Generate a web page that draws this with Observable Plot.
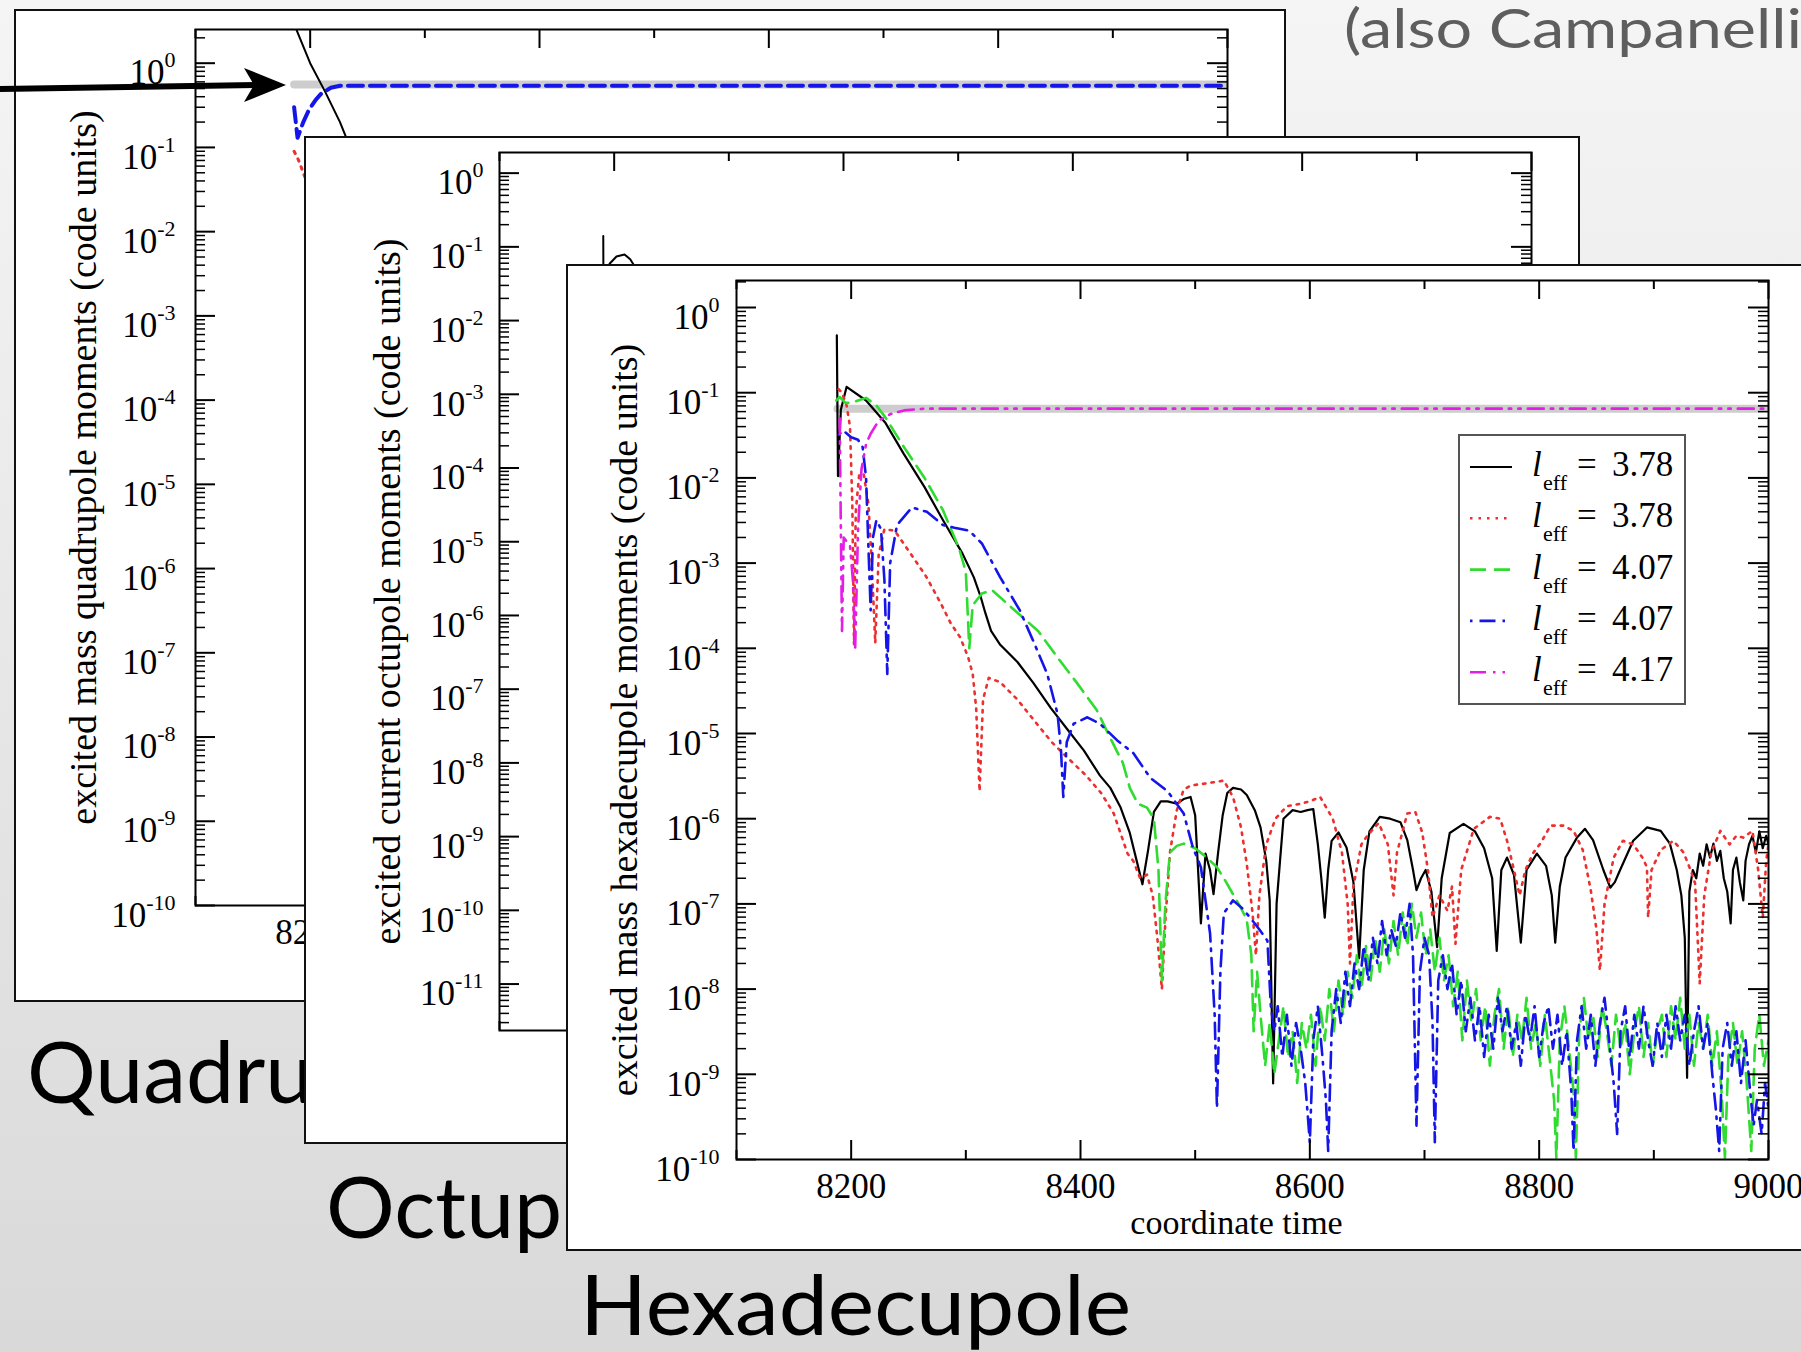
<!DOCTYPE html>
<html><head><meta charset="utf-8">
<script src="https://cdn.jsdelivr.net/npm/d3@7"></script>
<script src="https://cdn.jsdelivr.net/npm/@observablehq/plot@0.6"></script>
<style>
html,body{margin:0;padding:0;}
body{width:1801px;height:1352px;overflow:hidden;position:relative;background:linear-gradient(#f5f5f5,#d9d9d9);}
.box{position:absolute;background:#fff;border:2px solid #111;box-sizing:border-box;overflow:hidden;}
.box svg{position:absolute;left:-2px;top:-2px;}
.layer{position:absolute;left:0;top:0;}
</style></head><body>
<div id="quad" class="box" style="left:14px;top:9px;width:1272px;height:993px"></div>
<svg class="layer" id="layer1" width="1801" height="1352"></svg>
<div id="oct" class="box" style="left:304px;top:136px;width:1276px;height:1008px"></div>
<svg class="layer" id="layer2" width="1801" height="1352"></svg>
<div id="hex" class="box" style="left:566px;top:264px;width:1250px;height:987px"></div>
<svg class="layer" id="layer3" width="1801" height="1352"></svg>
<script>
// ---------- axes / categories ----------
const timeTicks = [8100, 8200, 8300, 8400, 8500, 8600, 8700, 8800, 8900, 9000];
const timeLabels = [8200, 8400, 8600, 8800, 9000];
const quadVisibleLabels = [8200];          // the rest of the quadrupole x labels sit under the other panels
const quadDecades = [0, -1, -2, -3, -4, -5, -6, -7, -8, -9, -10];
const octDecades = [0, -1, -2, -3, -4, -5, -6, -7, -8, -9, -10, -11];
const hexDecades = [0, -1, -2, -3, -4, -5, -6, -7, -8, -9, -10];
const xLabel = "coordinate time";
const quadYLabel = "excited mass quadrupole moments (code units)";
const octYLabel = "excited current octupole moments (code units)";
const hexYLabel = "excited mass hexadecupole moments (code units)";
const legendValues = ["3.78", "3.78", "4.07", "4.07", "4.17"];
const seriesColors = ["#000000", "#ec2f2f", "#2fdc2f", "#1515e8", "#e41ee4"];
const seriesDashes = ["", "2.5 6", "16 8", "2.5 7 16 7", "16 7 2.5 7 2.5 7"];
// visible parts of the slide captions (the rest is covered by the next panel)
const slideTitles = ["Quadru", "Octup", "Hexadecupole"];
const slideNote = "(also Campanelli";

// ---------- quadrupole panel (mostly hidden) ----------
const quadGrey = [[8186, 0.56], [9000, 0.56]];
const quadBlack = [[8186, 3.0], [8188, 2.5], [8200, 1.0], [8213, 0.46], [8226, 0.20], [8231, 0.135], [8245, 0.05], [8270, 0.01], [8300, 0.002], [8350, 1e-4], [8400, 5e-6]];
const quadRed = [[8186, 0.09], [8190, 0.07], [8194, 0.05], [8200, 0.03], [8210, 0.012], [8230, 0.003]];
const quadBlue = [[8186, 0.30], [8189, 0.13], [8194, 0.2], [8199, 0.28], [8205, 0.37], [8210, 0.44], [8218, 0.51], [8226, 0.54], [9000, 0.54]];

// ---------- octupole panel (mostly hidden) ----------
const octBlack = [[8190.5, 0.14], [8190.8, 0.004], [8193, 0.03], [8196, 0.059], [8202, 0.074], [8209, 0.079], [8214, 0.068], [8219, 0.051], [8230, 0.025], [8250, 0.006], [8280, 8e-4]];

// ---------- hexadecupole panel ----------
const hexGrey = [[8188, 6.5e-2], [9000, 6.5e-2]];
const hexBlack = [[8187.5,4.7e-1],[8188.5,1.05e-2],[8191,6.3e-2],[8196,1.17e-1],[8213,8.1e-2],[8230,4.4e-2],[8246,1.9e-2],[8264,7.8e-3],[8280,3.2e-3],[8297,1.3e-3],[8307,6.8e-4],[8313,4.0e-4],[8317,2.6e-4],[8322,1.6e-4],[8330,1.1e-4],[8345,6.9e-5],[8359,3.9e-5],[8374,2.0e-5],[8389,1.1e-5],[8403,6.3e-6],[8417,3.2e-6],[8426,2.3e-6],[8435,1.35e-6],[8443,6.8e-7],[8449,3.2e-7],[8454,1.7e-7],[8459,4.3e-7],[8464,1.2e-6],[8470,1.6e-6],[8476,1.6e-6],[8484,1.5e-6],[8490,1.7e-6],[8496,1.8e-6],[8500,1.1e-6],[8505,5.9e-8],[8509,3.9e-7],[8513,2.5e-7],[8516,1.3e-7],[8520,4.0e-7],[8524,1.1e-6],[8528,2.0e-6],[8533,2.3e-6],[8540,2.2e-6],[8545,1.9e-6],[8552,1.26e-6],[8557,7.9e-7],[8562,3.2e-7],[8565,1.1e-7],[8568,7.8e-10],[8571,1.0e-7],[8574,3.2e-7],[8577,1.0e-6],[8585,1.26e-6],[8592,1.2e-6],[8598,1.26e-6],[8603,1.3e-6],[8607,5.0e-7],[8610,2.0e-7],[8613,6.9e-8],[8616,2.5e-7],[8619,5.5e-7],[8625,6.9e-7],[8632,4.6e-7],[8638,1.8e-7],[8643,2.3e-8],[8647,2.5e-7],[8652,7.1e-7],[8661,1.05e-6],[8670,1.0e-6],[8679,9.1e-7],[8685,5.6e-7],[8690,2.5e-7],[8693,1.45e-7],[8697,2.0e-7],[8701,2.5e-7],[8706,1.4e-7],[8711,3.1e-8],[8715,2.0e-7],[8722,6.8e-7],[8734,8.7e-7],[8744,7.1e-7],[8752,4.5e-7],[8759,2.0e-7],[8763,2.8e-8],[8767,2.5e-7],[8772,3.5e-7],[8778,2.2e-7],[8784,3.5e-8],[8789,2.5e-7],[8798,3.9e-7],[8806,2.8e-7],[8811,1.26e-7],[8814,3.5e-8],[8818,1.6e-7],[8823,3.5e-7],[8833,6.0e-7],[8840,7.6e-7],[8847,5.6e-7],[8856,2.5e-7],[8862,1.55e-7],[8866,1.8e-7],[8870,2.4e-7],[8882,5.5e-7],[8894,7.9e-7],[8906,7.2e-7],[8914,5.1e-7],[8920,2.5e-7],[8924,1.26e-7],[8927,4.0e-8],[8929,9.1e-10],[8931,1.4e-7],[8934,2.5e-7],[8937,2.0e-7],[8940,3.9e-7],[8943,2.8e-7],[8946,5.0e-7],[8949,3.5e-7],[8952,5.1e-7],[8955,3.2e-7],[8958,4.2e-7],[8961,2.0e-7],[8964,1.4e-7],[8967,5.9e-8],[8969,2.5e-7],[8972,3.5e-7],[8975,1.8e-7],[8978,1.1e-7],[8980,3.2e-7],[8983,5.0e-7],[8986,6.3e-7],[8989,4.0e-7],[8992,7.1e-7],[8995,4.5e-7],[8998,6.3e-7],[9000,5.0e-7]];
const hexRed = [[8189,1.1e-1],[8192,1.0e-1],[8196,7.1e-2],[8199,4.0e-2],[8201,5.0e-3],[8202.5,1.1e-4],[8204,4.0e-3],[8207,1.1e-2],[8211,1.1e-2],[8215,5.0e-3],[8218,1.0e-3],[8221,1.15e-4],[8224,1.26e-3],[8229,2.5e-3],[8238,2.4e-3],[8250,1.4e-3],[8265,7.1e-4],[8278,3.4e-4],[8287,1.95e-4],[8295,1.35e-4],[8302,7.9e-5],[8306,5.0e-5],[8309,2.0e-5],[8312,2.1e-6],[8315,2.5e-5],[8320,4.5e-5],[8330,4.0e-5],[8345,2.5e-5],[8360,1.4e-5],[8375,7.9e-6],[8390,5.0e-6],[8405,3.2e-6],[8418,2.0e-6],[8429,1.15e-6],[8441,3.9e-7],[8446,3.2e-7],[8452,2.0e-7],[8458,2.2e-7],[8463,1.26e-7],[8467,4.0e-8],[8471,1.0e-8],[8474,6.3e-8],[8478,4.0e-7],[8484,1.26e-6],[8490,2.2e-6],[8496,2.45e-6],[8510,2.6e-6],[8525,2.8e-6],[8533,1.8e-6],[8540,7.9e-7],[8545,2.95e-7],[8550,7.9e-8],[8553,2.5e-8],[8556,1.26e-7],[8562,5.0e-7],[8570,1.0e-6],[8580,1.4e-6],[8592,1.5e-6],[8600,1.6e-6],[8609,1.8e-6],[8620,1.0e-6],[8628,4.0e-7],[8633,1.0e-7],[8635,2.0e-8],[8638,1.6e-7],[8645,5.0e-7],[8650,6.3e-7],[8660,8.9e-7],[8668,5.0e-7],[8673,1.26e-7],[8676,4.0e-7],[8685,1.15e-6],[8692,1.2e-6],[8698,6.9e-7],[8703,2.5e-7],[8707,6.9e-8],[8713,1.26e-7],[8720,8.3e-8],[8724,1.6e-7],[8727,3.4e-8],[8732,2.5e-7],[8743,7.6e-7],[8757,1.05e-6],[8766,1.0e-6],[8772,5.5e-7],[8778,2.5e-7],[8783,1.26e-7],[8788,2.5e-7],[8795,4.0e-7],[8801,5.1e-7],[8810,8.3e-7],[8821,8.3e-7],[8830,7.2e-7],[8838,4.3e-7],[8845,1.45e-7],[8850,5.0e-8],[8853,1.66e-8],[8857,1.0e-7],[8865,3.5e-7],[8873,5.5e-7],[8882,5.0e-7],[8890,3.5e-7],[8894,2.7e-7],[8895,6.9e-8],[8898,2.5e-7],[8906,4.3e-7],[8917,5.5e-7],[8926,4.0e-7],[8932,2.5e-7],[8936,1.74e-7],[8940,1.17e-8],[8944,1.26e-7],[8950,4.0e-7],[8958,7.2e-7],[8966,5.0e-7],[8972,6.3e-7],[8978,6.0e-7],[8986,7.2e-7],[8991,2.5e-7],[8995,6.9e-8],[8998,3.2e-7],[9000,5.0e-7]];
const hexGreen = [[8187,8.1e-2],[8190,8.9e-2],[8195,7.6e-2],[8200,7.6e-2],[8206,8.1e-2],[8213,8.7e-2],[8222,7.1e-2],[8230,5.1e-2],[8246,2.3e-2],[8264,1.0e-2],[8280,4.2e-3],[8294,1.5e-3],[8300,7.9e-4],[8303,1.0e-4],[8306,3.2e-4],[8314,4.4e-4],[8323,4.8e-4],[8340,3.0e-4],[8363,1.6e-4],[8380,7.8e-5],[8397,3.9e-5],[8414,1.9e-5],[8427,8.3e-6],[8437,4.5e-6],[8443,2.3e-6],[8450,1.5e-6],[8458,1.35e-6],[8464,1.0e-6],[8468,2.5e-7],[8471,1.26e-8],[8474,1.0e-7],[8478,4.0e-7],[8484,4.8e-7],[8490,5.1e-7],[8500,4.5e-7],[8510,3.5e-7],[8519,2.7e-7],[8527,1.8e-7],[8533,1.3e-7],[8540,8.9e-8],[8545,6.5e-8],[8549,2.5e-8],[8551,3.2e-9],[8554,1.6e-8],[8557,5.0e-9],[8561,1.26e-9],[8565,4.0e-9],[8569,1.0e-9],[8573,2.5e-9],[8577,6.3e-9],[8581,1.6e-9],[8585,3.2e-9],[8589,7.9e-10],[8593,4.0e-9],[8597,2.0e-9],[8601,5.0e-9],[8605,1.26e-9],[8609,6.3e-9],[8613,2.5e-9],[8617,1.0e-8],[8621,3.2e-9],[8625,1.26e-8],[8629,5.0e-9],[8633,1.6e-8],[8637,7.9e-9],[8641,2.5e-8],[8645,1.0e-8],[8649,3.2e-8],[8653,1.26e-8],[8657,4.0e-8],[8661,1.6e-8],[8665,5.0e-8],[8669,2.0e-8],[8673,6.3e-8],[8677,2.5e-8],[8681,7.9e-8],[8685,3.2e-8],[8689,1.0e-7],[8693,4.0e-8],[8697,7.9e-8],[8701,2.5e-8],[8705,5.0e-8],[8709,1.6e-8],[8713,4.0e-8],[8717,1.26e-8],[8721,2.5e-8],[8725,6.3e-9],[8729,1.6e-8],[8733,2.5e-9],[8737,1.26e-8],[8741,4.0e-9],[8745,1.0e-8],[8749,2.5e-9],[8753,6.3e-9],[8757,1.26e-9],[8761,5.0e-9],[8765,1.0e-8],[8769,2.0e-9],[8773,6.3e-9],[8777,1.6e-9],[8781,5.0e-9],[8785,2.5e-9],[8789,7.9e-9],[8793,2.0e-9],[8797,4.0e-9],[8801,1.26e-9],[8805,5.0e-9],[8809,1.6e-9],[8813,5.0e-10],[8815,1.05e-10],[8818,2.5e-9],[8822,6.3e-9],[8826,2.0e-9],[8830,6.3e-10],[8832,1.05e-10],[8835,3.2e-9],[8839,7.9e-9],[8843,2.5e-9],[8847,5.0e-9],[8851,1.6e-9],[8855,6.3e-9],[8859,3.2e-9],[8863,1.26e-9],[8867,5.0e-9],[8871,2.0e-9],[8875,4.0e-9],[8879,1.0e-9],[8883,3.2e-9],[8887,6.3e-9],[8891,1.6e-9],[8895,4.0e-9],[8899,1.26e-9],[8903,3.2e-9],[8907,5.0e-9],[8911,1.6e-9],[8915,6.3e-9],[8919,2.5e-9],[8923,7.9e-9],[8927,2.0e-9],[8931,5.0e-9],[8935,1.26e-9],[8939,4.0e-9],[8943,2.0e-9],[8947,5.0e-9],[8951,1.26e-9],[8955,3.2e-9],[8959,6.3e-10],[8962,1.05e-10],[8965,1.6e-9],[8969,4.0e-9],[8973,1.26e-9],[8977,3.2e-9],[8981,7.9e-10],[8985,1.26e-10],[8988,2.0e-9],[8992,5.0e-9],[8996,1.26e-9],[9000,2.5e-9]];
const hexBlue = [[8189,3.2e-2],[8193,3.6e-2],[8200,3.0e-2],[8206,2.8e-2],[8210,2.3e-2],[8213,1.0e-2],[8215,1.6e-3],[8217,2.8e-4],[8219,2.0e-3],[8222,3.2e-3],[8226,2.5e-3],[8229,6.3e-4],[8231.5,5.0e-5],[8234,1.0e-3],[8240,2.8e-3],[8253,4.5e-3],[8266,4.0e-3],[8280,2.8e-3],[8290,2.6e-3],[8303,2.4e-3],[8314,1.7e-3],[8330,6.8e-4],[8347,2.8e-4],[8359,1.2e-4],[8371,5.0e-5],[8380,1.7e-5],[8383,6.3e-6],[8385,1.8e-6],[8388,7.9e-6],[8394,1.3e-5],[8406,1.55e-5],[8417,1.3e-5],[8432,8.3e-6],[8446,5.9e-6],[8461,3.0e-6],[8476,2.1e-6],[8490,1.15e-6],[8498,4.6e-7],[8505,2.7e-7],[8513,4.5e-8],[8517,5.0e-9],[8519,4.0e-10],[8522,1.6e-8],[8525,7.8e-8],[8533,1.1e-7],[8541,8.9e-8],[8548,6.9e-8],[8556,5.0e-8],[8563,3.7e-8],[8566,6.3e-9],[8569,3.2e-9],[8572,6.3e-9],[8576,1.6e-9],[8580,5.0e-9],[8584,1.26e-9],[8588,4.0e-9],[8592,2.0e-9],[8596,7.9e-10],[8600,1.6e-10],[8603,2.5e-9],[8607,6.3e-9],[8611,1.6e-9],[8614,5.0e-10],[8616,1.26e-10],[8619,3.2e-9],[8623,1.0e-8],[8627,4.0e-9],[8631,1.6e-8],[8635,6.3e-9],[8639,2.0e-8],[8643,1.0e-8],[8647,3.2e-8],[8651,1.26e-8],[8655,4.0e-8],[8659,2.0e-8],[8663,6.3e-8],[8667,2.5e-8],[8671,5.0e-8],[8675,3.2e-8],[8679,7.9e-8],[8683,4.0e-8],[8687,1.0e-7],[8690,2.5e-8],[8693,2.5e-10],[8696,1.6e-8],[8700,4.0e-8],[8704,2.5e-8],[8707,4.0e-9],[8709,1.6e-10],[8712,1.26e-8],[8716,2.5e-8],[8720,1.0e-8],[8724,2.0e-8],[8728,5.0e-9],[8732,1.26e-8],[8736,3.2e-9],[8740,7.9e-9],[8744,2.5e-9],[8748,6.3e-9],[8752,1.6e-9],[8756,5.0e-9],[8760,2.0e-9],[8764,7.9e-9],[8768,3.2e-9],[8772,6.3e-9],[8776,2.0e-9],[8780,4.0e-9],[8784,1.26e-9],[8788,5.0e-9],[8792,2.5e-9],[8796,6.3e-9],[8800,1.6e-9],[8804,4.0e-9],[8808,6.3e-9],[8812,2.0e-9],[8816,5.0e-9],[8820,1.26e-9],[8824,3.2e-9],[8828,6.3e-10],[8830,1.26e-10],[8833,2.5e-9],[8837,6.3e-9],[8841,2.0e-9],[8845,5.0e-9],[8849,1.26e-9],[8853,4.0e-9],[8857,7.9e-9],[8861,2.5e-9],[8865,7.9e-10],[8868,2.0e-10],[8871,3.2e-9],[8875,6.3e-9],[8879,1.6e-9],[8883,5.0e-9],[8887,2.0e-9],[8891,6.3e-9],[8895,2.5e-9],[8899,1.26e-9],[8903,4.0e-9],[8907,1.6e-9],[8911,5.0e-9],[8915,2.0e-9],[8919,6.3e-9],[8923,2.5e-9],[8927,5.0e-9],[8931,1.26e-9],[8935,3.2e-9],[8939,6.3e-9],[8943,2.0e-9],[8947,4.0e-9],[8951,1.0e-9],[8954,4.0e-10],[8957,1.26e-10],[8960,2.0e-9],[8964,4.0e-9],[8968,1.26e-9],[8972,3.2e-9],[8976,7.9e-10],[8980,2.5e-9],[8984,6.3e-10],[8987,2.5e-10],[8990,5.0e-10],[8994,2.0e-10],[8997,7.9e-10],[9000,4.0e-10]];
const hexMagenta = [[8190,5.0e-2],[8191,2.5e-3],[8192,1.6e-4],[8193.5,2.0e-3],[8196,1.8e-3],[8199,1.6e-3],[8201.5,6.3e-4],[8203.5,1.0e-4],[8206,2.5e-3],[8209,1.26e-2],[8213,2.5e-2],[8217,3.3e-2],[8224,4.7e-2],[8234,5.6e-2],[8246,6.2e-2],[8264,6.5e-2],[9000,6.5e-2]];

// ---------- panel builder ----------
function buildPanel(cfg) {
  const {W, H, ml, mt, mr, mb, ylo, yhi, decades, ylabel, series, grey, yPad, xLabels, showXLabel} = cfg;
  const fw = W - ml - mr, fh = H - mt - mb;
  const major = decades.map(d => Math.pow(10, d));
  const minor = [];
  const dmin = Math.min(...decades) - 1, dmax = Math.max(...decades);
  for (let d = dmin; d <= dmax; d++) for (let k = 2; k <= 9; k++) {
    const v = k * Math.pow(10, d);
    if (v >= ylo && v <= yhi) minor.push(v);
  }
  const longX = timeTicks.filter(t => t % 200 === 0);
  const shortX = timeTicks.filter(t => t % 200 !== 0);
  const marks = [];
  if (grey) marks.push(Plot.line(grey, {x: d => d[0], y: d => d[1], stroke: "#cdcdcd", strokeWidth: 8, clip: true}));
  for (const s of series) {
    marks.push(Plot.line(s.data, {x: d => d[0], y: d => d[1], stroke: s.color, strokeWidth: s.width,
      strokeDasharray: s.dash || null, strokeLinejoin: "round", clip: true}));
  }
  marks.push(
    Plot.ruleX(longX, {x: d => d, insetTop: fh - 19, strokeWidth: 2}),
    Plot.ruleX(shortX, {x: d => d, insetTop: fh - 9, strokeWidth: 2}),
    Plot.ruleX(longX, {x: d => d, insetBottom: fh - 19, strokeWidth: 2}),
    Plot.ruleX(shortX, {x: d => d, insetBottom: fh - 9, strokeWidth: 2}),
    Plot.ruleY(major, {y: d => d, insetRight: fw - 20, strokeWidth: 2}),
    Plot.ruleY(minor, {y: d => d, insetRight: fw - 10, strokeWidth: 1.5}),
    Plot.ruleY(major, {y: d => d, insetLeft: fw - 20, strokeWidth: 2}),
    Plot.ruleY(minor, {y: d => d, insetLeft: fw - 10, strokeWidth: 1.5}),
    Plot.frame({stroke: "#000", strokeWidth: 2}),
    Plot.axisY(major, {anchor: "left", tickSize: 0, tickPadding: yPad, fontSize: 35, dy: 10,
      tickFormat: v => "10^" + Math.round(Math.log10(v)), label: null}),
    Plot.text([ylabel], {text: d => d, frameAnchor: "left", textAnchor: "middle", lineAnchor: "middle", rotate: -90, dx: -112, fontSize: 38})
  );
  if (xLabels && xLabels.length) {
    marks.push(Plot.axisX(xLabels, {anchor: "bottom", tickSize: 0, tickPadding: 14, fontSize: 35, tickFormat: d => String(d), label: null}));
  }
  if (showXLabel) {
    marks.push(Plot.text([xLabel], {text: d => d, frameAnchor: "bottom", textAnchor: "middle", lineAnchor: "middle", dx: -16, dy: 64, fontSize: 34}));
  }
  const svg = Plot.plot({
    width: W, height: H, marginLeft: ml, marginTop: mt, marginRight: mr, marginBottom: mb,
    x: {domain: [8100, 9000], axis: null},
    y: {type: "log", domain: [ylo, yhi], axis: null},
    style: {fontFamily: "'Liberation Serif', 'Times New Roman', serif", background: "transparent", color: "#000", maxWidth: "none"},
    marks
  });
  svg.style.maxWidth = "none";
  svg.querySelectorAll('g[aria-label="y-axis tick label"] text').forEach(t => {
    const m = t.textContent.match(/^10\^(.+)$/);
    if (!m) return;
    t.textContent = "10";
    const ts = document.createElementNS("http://www.w3.org/2000/svg", "tspan");
    ts.setAttribute("dy", "-17");
    ts.setAttribute("font-size", "22");
    ts.textContent = m[1];
    t.appendChild(ts);
  });
  return svg;
}

document.getElementById("quad").appendChild(buildPanel({
  W: 1272, H: 993, ml: 181, mt: 20, mr: 59, mb: 97, yPad: 20, xLabels: quadVisibleLabels, showXLabel: false,
  ylo: 1e-10, yhi: Math.pow(10, 0.40), decades: quadDecades, ylabel: quadYLabel,
  grey: quadGrey,
  series: [
    {data: quadBlack, color: seriesColors[0], width: 2, dash: ""},
    {data: quadRed, color: seriesColors[1], width: 3, dash: "2.5 6"},
    {data: quadBlue, color: seriesColors[3], width: 4, dash: "15 7"}
  ]
}));

document.getElementById("oct").appendChild(buildPanel({
  W: 1276, H: 1008, ml: 195, mt: 16, mr: 49, mb: 114, yPad: 16, xLabels: [], showXLabel: false,
  ylo: Math.pow(10, -11.63), yhi: Math.pow(10, 0.28), decades: octDecades, ylabel: octYLabel,
  series: [
    {data: octBlack, color: seriesColors[0], width: 2, dash: ""}
  ]
}));

const hexSeries = [hexBlack, hexRed, hexGreen, hexBlue, hexMagenta].map((data, i) => ({
  data, color: seriesColors[i], width: i === 0 ? 2.2 : 2.6, dash: seriesDashes[i]
}));
document.getElementById("hex").appendChild(buildPanel({
  W: 1250, H: 987, ml: 170, mt: 16, mr: 48, mb: 92, yPad: 17, xLabels: timeLabels, showXLabel: true,
  ylo: 1e-10, yhi: Math.pow(10, 0.317), decades: hexDecades, ylabel: hexYLabel,
  grey: hexGrey, series: hexSeries
}));

// ---------- slide decorations ----------
const NS = "http://www.w3.org/2000/svg";
function el(parent, tag, attrs, text) {
  const e = document.createElementNS(NS, tag);
  for (const k in attrs) e.setAttribute(k, attrs[k]);
  if (text != null) e.textContent = text;
  parent.appendChild(e);
  return e;
}
const sans = "Lato, 'Open Sans', sans-serif";
const serif = "'Liberation Serif', 'Times New Roman', serif";
const L1 = document.getElementById("layer1");
el(L1, "text", {x: 27, y: 1103, "font-family": sans, "font-size": 86, fill: "#000"}, slideTitles[0]);
el(L1, "path", {d: "M0,89 L258,85", stroke: "#000", "stroke-width": 6, fill: "none"});
el(L1, "path", {d: "M286,85 L244,68 L254,85 L244,102 Z", fill: "#000"});

const L2 = document.getElementById("layer2");
el(L2, "text", {x: 326, y: 1238, "font-family": sans, "font-size": 86, fill: "#000"}, slideTitles[1]);

const L3 = document.getElementById("layer3");
el(L3, "text", {x: 580, y: 1335, "font-family": sans, "font-size": 84, fill: "#000", textLength: 551, lengthAdjust: "spacingAndGlyphs"}, slideTitles[2]);
el(L3, "text", {x: 1344, y: 48, "font-family": sans, "font-size": 54, fill: "#5e5e5e", textLength: 458, lengthAdjust: "spacingAndGlyphs"}, slideNote);

// legend
el(L3, "rect", {x: 1459, y: 435, width: 226, height: 269, fill: "#fff", stroke: "#555", "stroke-width": 2});
legendValues.forEach((v, i) => {
  const cy = 467 + i * 51.3;
  el(L3, "line", {x1: 1470, x2: 1512, y1: cy, y2: cy, stroke: seriesColors[i], "stroke-width": i === 0 ? 2.2 : 2.6,
    "stroke-dasharray": seriesDashes[i] || "none"});
  el(L3, "text", {x: 1532, y: cy + 9, "font-family": serif, "font-size": 35, "font-style": "italic", fill: "#000"}, "l");
  el(L3, "text", {x: 1543, y: cy + 23, "font-family": serif, "font-size": 22, fill: "#000"}, "eff");
  el(L3, "text", {x: 1577, y: cy + 9, "font-family": serif, "font-size": 35, fill: "#000"}, "=");
  el(L3, "text", {x: 1612, y: cy + 9, "font-family": serif, "font-size": 35, fill: "#000"}, v);
});
</script>
</body></html>
